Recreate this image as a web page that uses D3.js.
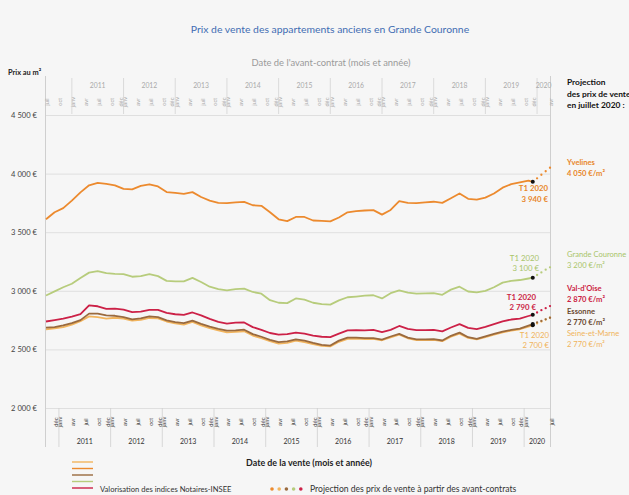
<!DOCTYPE html>
<html><head><meta charset="utf-8">
<script src="https://cdn.jsdelivr.net/npm/d3@7"></script>
<style>
html,body{margin:0;padding:0;background:#f6f6f6;}
svg{display:block;font-family:Lato,"Open Sans",sans-serif;}
</style>
</head><body><svg id="c" width="629" height="495"></svg>
<script>
// ---------- DATA ----------
const dates = ["2010-10","2010-12",
"2011-02","2011-04","2011-06","2011-08","2011-10","2011-12",
"2012-02","2012-04","2012-06","2012-08","2012-10","2012-12",
"2013-02","2013-04","2013-06","2013-08","2013-10","2013-12",
"2014-02","2014-04","2014-06","2014-08","2014-10","2014-12",
"2015-02","2015-04","2015-06","2015-08","2015-10","2015-12",
"2016-02","2016-04","2016-06","2016-08","2016-10","2016-12",
"2017-02","2017-04","2017-06","2017-08","2017-10","2017-12",
"2018-02","2018-04","2018-06","2018-08","2018-10","2018-12",
"2019-02","2019-04","2019-06","2019-08","2019-10","2019-12",
"2020-02","2020-03"];
const yvelines = [3610,3670,3705,3770,3840,3900,3920,3912,3900,3870,3865,3895,3909,3890,3842,3835,3827,3842,3800,3770,3750,3748,3755,3758,3730,3725,3670,3610,3595,3630,3630,3600,3596,3592,3625,3670,3680,3685,3688,3650,3690,3765,3750,3748,3755,3760,3750,3790,3830,3785,3778,3795,3830,3880,3910,3925,3940,3930];
const grandeCouronne = [2960,2995,3030,3060,3110,3155,3168,3150,3145,3142,3120,3125,3142,3125,3085,3080,3080,3110,3075,3035,3015,3003,3015,3018,2990,2975,2920,2898,2895,2935,2925,2898,2886,2882,2918,2945,2951,2958,2962,2935,2980,3003,2985,2976,2978,2980,2966,3010,3035,2994,2986,3000,3030,3070,3085,3092,3105,3112];
const valDOise = [2738,2750,2762,2780,2800,2875,2868,2846,2848,2840,2818,2822,2838,2838,2812,2800,2795,2815,2790,2760,2735,2720,2728,2730,2690,2667,2640,2626,2630,2643,2635,2618,2608,2605,2635,2662,2664,2663,2666,2648,2667,2700,2676,2664,2664,2666,2654,2687,2716,2684,2673,2693,2716,2740,2755,2762,2785,2795];
const essonne = [2685,2690,2705,2725,2750,2805,2805,2790,2787,2775,2756,2765,2781,2775,2748,2733,2724,2745,2718,2695,2675,2660,2663,2668,2630,2608,2582,2562,2568,2585,2575,2555,2538,2533,2575,2600,2600,2596,2596,2584,2610,2632,2600,2585,2585,2588,2576,2616,2643,2604,2590,2612,2632,2652,2666,2678,2703,2716];
const seineEtMarne = [2670,2680,2690,2712,2740,2782,2775,2762,2770,2762,2745,2752,2768,2765,2738,2722,2712,2735,2705,2682,2662,2645,2650,2655,2618,2595,2570,2550,2555,2575,2562,2545,2530,2525,2565,2590,2592,2588,2590,2578,2602,2625,2595,2580,2580,2582,2570,2608,2635,2598,2585,2605,2625,2645,2660,2672,2695,2705];

const projDates = ["2020-04","2020-05","2020-06","2020-07"];
const projYvelines = [3960,3990,4020,4050];
const projGC = [3135,3157,3180,3200];
const projVdO = [2815,2835,2852,2870];
const projEssonne = [2730,2743,2757,2770];
const projSeM = [2722,2738,2755,2770];

const yTicks = [2000,2500,3000,3500,4000,4500];
const years = [2011,2012,2013,2014,2015,2016,2017,2018,2019,2020];
const bottomTickDates = ["2010-12",
 "2011-01","2011-04","2011-07","2011-10","2011-12",
 "2012-01","2012-04","2012-07","2012-10","2012-12",
 "2013-01","2013-04","2013-07","2013-10","2013-12",
 "2014-01","2014-04","2014-07","2014-10","2014-12",
 "2015-01","2015-04","2015-07","2015-10","2015-12",
 "2016-01","2016-04","2016-07","2016-10","2016-12",
 "2017-01","2017-04","2017-07","2017-10","2017-12",
 "2018-01","2018-04","2018-07","2018-10","2018-12",
 "2019-01","2019-04","2019-07","2019-10","2019-12",
 "2020-01","2020-07"];
const topTickDates = ["2010-07","2010-10",
 "2011-01","2011-04","2011-07","2011-10","2011-12",
 "2012-01","2012-04","2012-07","2012-10","2012-12",
 "2013-01","2013-04","2013-07","2013-10","2013-12",
 "2014-01","2014-04","2014-07","2014-10","2014-12",
 "2015-01","2015-04","2015-07","2015-10","2015-12",
 "2016-01","2016-04","2016-07","2016-10","2016-12",
 "2017-01","2017-04","2017-07","2017-10","2017-12",
 "2018-01","2018-04","2018-07","2018-10","2018-12",
 "2019-01","2019-04","2019-07","2019-10","2019-12",
 "2020-04"];
const monthNames = ["janv","févr","mars","avr","mai","juin","juil","août","sept","oct","nov","déc"];

const series = [
 {name:"Seine-et-Marne", values:seineEtMarne, proj:projSeM, color:"#f2b55e"},
 {name:"Essonne", values:essonne, proj:projEssonne, color:"#9a6a3e"},
 {name:"Grande Couronne", values:grandeCouronne, proj:projGC, color:"#b7cc7c"},
 {name:"Val-d'Oise", values:valDOise, proj:projVdO, color:"#cc2147"},
 {name:"Yvelines", values:yvelines, proj:projYvelines, color:"#ec8a2e"}
];

// ---------- HELPERS ----------
const mIndex = s => { const [yy,mm] = s.split("-").map(Number); return (yy-2011)*12 + (mm-1); };
const mName = s => monthNames[Number(s.split("-")[1])-1];

const svg = d3.select("#c");
const x = d3.scaleLinear().domain([-3,114]).range([46,550]);
const y = d3.scaleLinear().domain([2000,4500]).range([408,115]);
const fr = d3.formatLocale({decimal:",", thousands:"\u00a0", grouping:[3], currency:["","\u00a0€"]});

// Titles
svg.append("text").attr("x",330).attr("y",33).attr("text-anchor","middle")
 .attr("font-size",10.4).attr("fill","#3f6db3").text("Prix de vente des appartements anciens en Grande Couronne");
svg.append("text").attr("x",331).attr("y",66).attr("text-anchor","middle")
 .attr("font-size",9.4).attr("fill","#9a9a9a").text("Date de l'avant-contrat (mois et année)");
svg.append("text").attr("x",8).attr("y",75).attr("font-size",7.4).attr("font-weight","bold")
 .attr("fill","#222").text("Prix au m²");

// Y axis + gridlines
const yAxis = svg.append("g").attr("transform","translate(45,0)")
 .call(d3.axisLeft(y).tickValues(yTicks).tickSize(-505).tickPadding(8)
   .tickFormat(d => fr.format(",")(d) + "\u00a0€"));
yAxis.select(".domain").remove();
yAxis.selectAll("line").attr("stroke","#d9d9d9").attr("stroke-width",0.8);
yAxis.selectAll("text").attr("font-size",7.6).attr("fill","#444").attr("font-family","Lato,sans-serif");

// Frame verticals
svg.append("line").attr("x1",45.5).attr("x2",45.5).attr("y1",76).attr("y2",447).attr("stroke","#cfcfcf");
svg.append("line").attr("x1",550.5).attr("x2",550.5).attr("y1",76).attr("y2",447).attr("stroke","#cfcfcf");

// Top axis (avant-contrat = sale date - 3 months)
const topG = svg.append("g");
years.forEach(yr => {
  const xs = x((yr-2011)*12 + 3);
  topG.append("line").attr("x1",xs).attr("x2",xs).attr("y1",78).attr("y2",114).attr("stroke","#d3d3d3").attr("stroke-width",0.8);
  const xe = Math.min(x((yr-2010)*12 + 3), 550);
  topG.append("text").attr("x",(xs+xe)/2).attr("y",88).attr("text-anchor","middle")
   .attr("font-size",6.8).attr("fill","#aaa").text(yr);
});
const topAxis = svg.append("g").attr("transform","translate(0,102)")
 .call(d3.axisBottom(x).tickValues(topTickDates.map(d => mIndex(d)+3)).tickSize(0)
   .tickFormat((d,i) => mName(topTickDates[i])));
topAxis.select(".domain").remove();
topAxis.selectAll("text").attr("transform","rotate(-90)").attr("x",0).attr("y",1).attr("dy","0.35em")
 .attr("text-anchor","middle").attr("font-size",5.6).attr("fill","#aaa");

// Bottom axis
const botG = svg.append("g");
years.forEach(yr => {
  const xs = x((yr-2011)*12);
  botG.append("line").attr("x1",xs).attr("x2",xs).attr("y1",408).attr("y2",447).attr("stroke","#cfcfcf").attr("stroke-width",0.8);
  const xe = Math.min(x((yr-2010)*12), 550);
  botG.append("text").attr("x",(xs+xe)/2).attr("y",444).attr("text-anchor","middle")
   .attr("font-size",7).attr("fill","#333").text(yr);
});
const botAxis = svg.append("g").attr("transform","translate(0,422)")
 .call(d3.axisBottom(x).tickValues(bottomTickDates.map(mIndex)).tickSize(0)
   .tickFormat((d,i) => mName(bottomTickDates[i])));
botAxis.select(".domain").remove();
botAxis.selectAll("text").attr("transform","rotate(-90)").attr("x",0).attr("y",1).attr("dy","0.35em")
 .attr("text-anchor","middle").attr("font-size",5.8).attr("fill","#444");

svg.append("text").attr("x",309).attr("y",466).attr("text-anchor","middle")
 .attr("font-size",8.9).attr("font-weight","bold").attr("fill","#222").text("Date de la vente (mois et année)");

// Lines
const line = d3.line().x(d => x(d[0])).y(d => y(d[1]));
series.forEach(s => {
  const pts = dates.map((d,i) => [mIndex(d), s.values[i]]);
  svg.append("path").attr("d", line(pts)).attr("fill","none").attr("stroke",s.color)
   .attr("stroke-width",1.8).attr("stroke-linejoin","round");
});
// Projections (dotted)
series.forEach(s => {
  const last = [mIndex(dates[dates.length-1]), s.values[s.values.length-1]];
  const pts = projDates.map((d,i) => [mIndex(d), s.proj[i]]);
  svg.selectAll(null).data(pts).enter().append("circle")
   .attr("cx", d => x(d[0])).attr("cy", d => y(d[1])).attr("r",1.15).attr("fill",s.color);
  svg.append("circle").attr("cx",x(last[0])).attr("cy",y(last[1])).attr("r",2).attr("fill","#111");
});

// Annotations T1 2020
const ann = [
 {t1:"T1 2020", t2:"3 940 €", color:"#e8862a", bold:true, xr:548, y1:191, y2:202},
 {t1:"T1 2020", t2:"3 100 €", color:"#a9c56a", bold:false, xr:539, y1:261, y2:271},
 {t1:"T1 2020", t2:"2 790 €", color:"#cc1f45", bold:true, xr:536, y1:300, y2:310},
 {t1:"T1 2020", t2:"2 700 €", color:"#f0b45c", bold:false, xr:549, y1:338, y2:348}
];
ann.forEach(a => {
  [a.t1,a.t2].forEach((t,k) => svg.append("text").attr("x",a.xr).attr("y",k?a.y2:a.y1)
   .attr("text-anchor","end").attr("font-size",7.8).attr("font-weight",a.bold?"bold":"normal")
   .attr("fill",a.color).text(t));
});

// Right side labels
svg.append("g").selectAll("text").data(["Projection","des prix de vente","en juillet 2020 :"]).enter()
 .append("text").attr("x",567).attr("y",(d,i)=>85+i*11.5).attr("font-size",8.4).attr("font-weight","bold")
 .attr("fill","#111").text(d=>d);
const right = [
 {n:"Yvelines", v:"4 050 €/m²", color:"#e8862a", bold:true, y:165},
 {n:"Grande Couronne", v:"3 200 €/m²", color:"#a9c56a", bold:false, y:257},
 {n:"Val-d'Oise", v:"2 870 €/m²", color:"#cc1f45", bold:true, y:291},
 {n:"Essonne", v:"2 770 €/m²", color:"#6b4a32", bold:true, y:314},
 {n:"Seine-et-Marne", v:"2 770 €/m²", color:"#f0b45c", bold:false, y:336}
];
right.forEach(r => {
  svg.append("text").attr("x",567).attr("y",r.y).attr("font-size",7.6).attr("font-weight",r.bold?"bold":"normal").attr("fill",r.color).text(r.n);
  svg.append("text").attr("x",567).attr("y",r.y+11).attr("font-size",7.6).attr("font-weight",r.bold?"bold":"normal").attr("fill",r.color).text(r.v);
});

// Legend
const legLineOrder = [0,4,1,2,3];
legLineOrder.forEach((si,k) => {
  svg.append("line").attr("x1",72).attr("x2",93).attr("y1",462+k*6.5).attr("y2",462+k*6.5)
   .attr("stroke",series[si].color).attr("stroke-width",1.4);
});
svg.append("text").attr("x",100).attr("y",491.5).attr("font-size",7.6).attr("fill","#333")
 .text("Valorisation des indices Notaires-INSEE");
const legDotOrder = [4,0,1,2,3];
legDotOrder.forEach((si,k) => {
  svg.append("circle").attr("cx",272+k*7.2).attr("cy",489).attr("r",1.8).attr("fill",series[si].color);
});
svg.append("text").attr("x",310).attr("y",491.5).attr("font-size",8.6).attr("fill","#333")
 .text("Projection des prix de vente à partir des avant-contrats");
</script>
</body></html>
